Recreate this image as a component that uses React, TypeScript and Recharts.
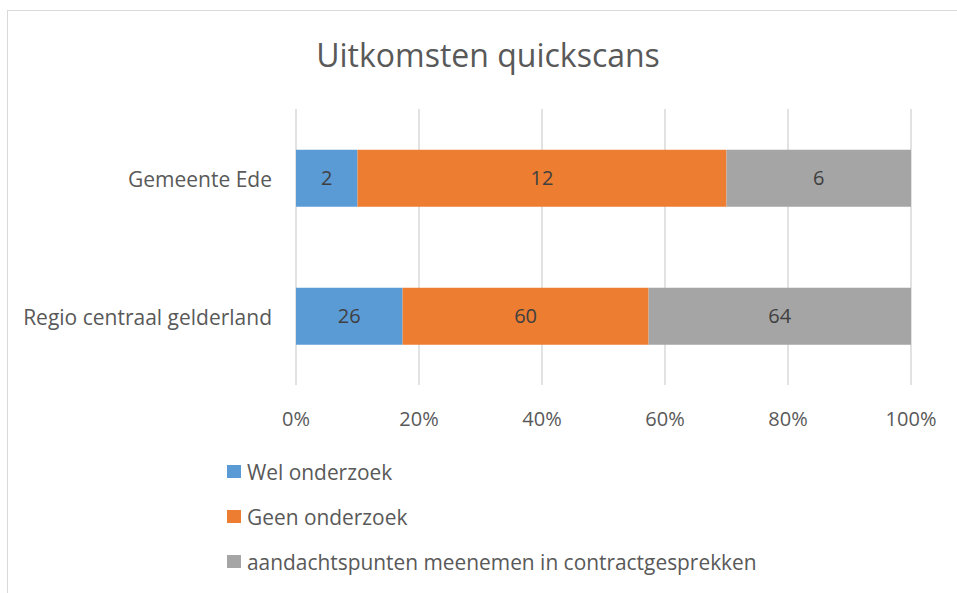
import { Bar, BarChart, CartesianGrid, LabelList, XAxis, YAxis } from "recharts";

const categories = ["Gemeente Ede", "Regio centraal gelderland"];
const welOnderzoek = [2, 26];
const geenOnderzoek = [12, 60];
const aandachtspunten = [6, 64];
const percentTicks = [0, 0.2, 0.4, 0.6, 0.8, 1];

const seriesNames = [
  "Wel onderzoek",
  "Geen onderzoek",
  "aandachtspunten meenemen in contractgesprekken",
];
const seriesColors = ["#5B9BD5", "#ED7D31", "#A5A5A5"];

const data = categories.map((name, i) => ({
  name,
  wel: welOnderzoek[i],
  geen: geenOnderzoek[i],
  aandacht: aandachtspunten[i],
}));

const FONT = "'Open Sans', sans-serif";
const TEXT = "#595959";

function LegendBox() {
  return (
    <div style={{ position: "absolute", left: 227, top: 449 }}>
      {seriesNames.map((n, i) => (
        <div key={n} style={{ display: "flex", alignItems: "center", height: 45 }}>
          <span
            style={{
              width: 14,
              height: 13,
              background: seriesColors[i],
              display: "inline-block",
              marginRight: 6,
            }}
          />
          <span style={{ fontSize: 20.9, color: TEXT }}>{n}</span>
        </div>
      ))}
    </div>
  );
}

export default function App() {
  const keys = ["wel", "geen", "aandacht"];
  return (
    <div
      style={{
        position: "absolute",
        left: 0,
        top: 0,
        width: 957,
        height: 593,
        overflow: "hidden",
        background: "#fff",
        fontFamily: FONT,
      }}
    >
      <div
        style={{
          position: "absolute",
          left: 7,
          top: 10,
          width: 1000,
          height: 700,
          border: "1px solid #D9D9D9",
        }}
      />
      <div
        style={{
          position: "absolute",
          left: 0,
          width: 976,
          top: 33,
          textAlign: "center",
          fontSize: 32,
          lineHeight: "44px",
          color: TEXT,
        }}
      >
        Uitkomsten quickscans
      </div>
      <div style={{ position: "absolute", left: 0, top: 0 }}>
        <BarChart
          width={957}
          height={450}
          data={data}
          layout="vertical"
          stackOffset="expand"
          barCategoryGap="29.5%"
          margin={{ top: 109, right: 46, bottom: 25, left: 0 }}
        >
          <CartesianGrid horizontal={false} stroke="#D9D9D9" strokeWidth={1.5} />
          <XAxis
            type="number"
            domain={[0, 1]}
            ticks={percentTicks}
            tickFormatter={(v: number) => `${Math.round(v * 100)}%`}
            axisLine={false}
            tickLine={false}
            tickSize={0}
            tickMargin={27}
            tick={{ fontSize: 20, fill: TEXT, fontFamily: FONT }}
            height={40}
          />
          <YAxis
            type="category"
            dataKey="name"
            width={296}
            axisLine={false}
            tickLine={false}
            tickSize={0}
            tickMargin={24}
            tick={{ fontSize: 21, fill: TEXT, fontFamily: FONT, dy: 2 }}
          />
          {keys.map((k, i) => (
            <Bar
              key={k}
              dataKey={k}
              name={seriesNames[i]}
              stackId="a"
              fill={seriesColors[i]}
              isAnimationActive={false}
            >
              <LabelList
                dataKey={k}
                position="center"
                fill="#404040"
                fontSize={20}
                fontFamily={FONT}
              />
            </Bar>
          ))}
        </BarChart>
      </div>
      <LegendBox />
    </div>
  );
}
